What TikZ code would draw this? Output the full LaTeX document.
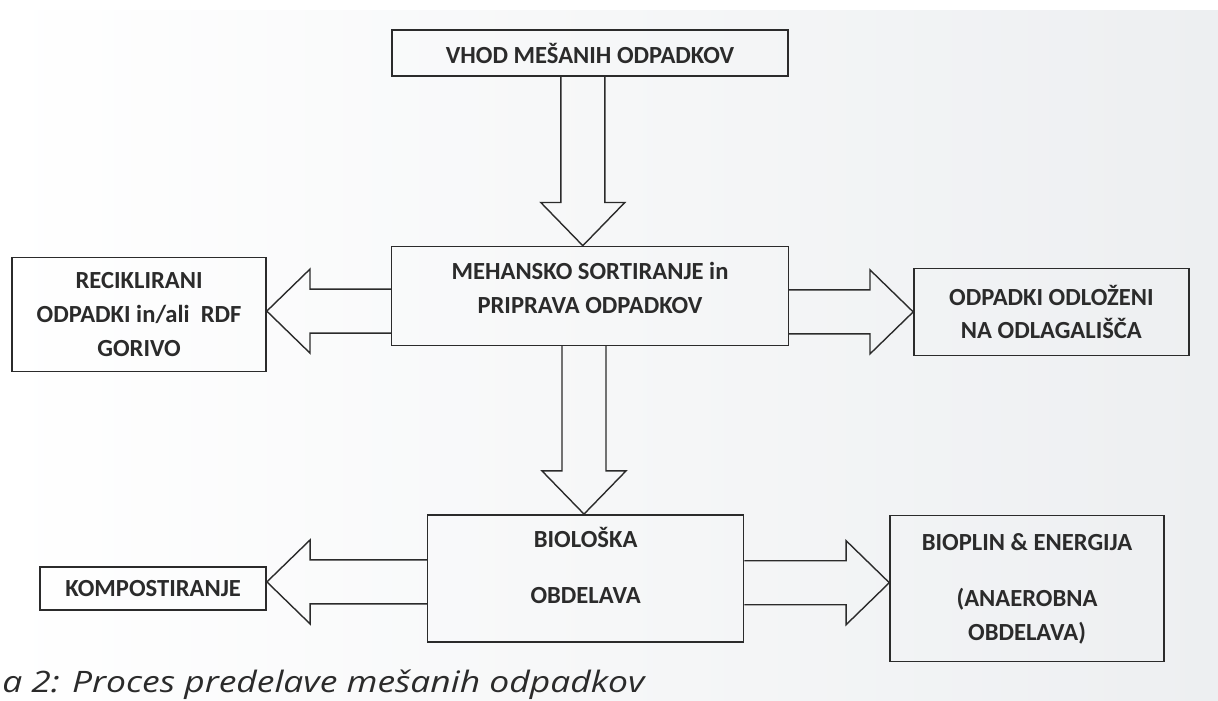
\documentclass[tikz,border=0pt]{standalone}
\usepackage{fontspec}
\usepackage{tikz}
\usetikzlibrary{positioning, calc}
\newfontfamily\boxfont{Carlito}
\newfontfamily\capfont{Open Sans}[FakeStretch=1.2]
\definecolor{ink}{HTML}{2B2B2B}
\definecolor{paper}{HTML}{EDEFF1}
\newcommand{\shaftw}{0.55cm}
\newcommand{\headw}{1.05cm}
\newcommand{\headl}{1.08cm}

\begin{document}
\begin{tikzpicture}[
    box/.style={rectangle, draw=ink, line width=1pt, text=ink, align=center, inner sep=0pt,
        font=\boxfont\bfseries\fontsize{17.5}{24}\selectfont},
    blockarrow/.style={draw=ink, line width=1pt, line join=miter,
        to path={let \p1=(\tikztostart), \p2=(\tikztotarget),
            \n1={veclen(\x2-\x1,\y2-\y1)}, \n2={(\x2-\x1)/\n1}, \n3={(\y2-\y1)/\n1} in
            ($(\p1)+({-\n3*\shaftw},{\n2*\shaftw})$)
            -- ($(\p2)+({-\n2*\headl-\n3*\shaftw},{-\n3*\headl+\n2*\shaftw})$)
            -- ($(\p2)+({-\n2*\headl-\n3*\headw},{-\n3*\headl+\n2*\headw})$)
            -- (\p2)
            -- ($(\p2)+({-\n2*\headl+\n3*\headw},{-\n3*\headl-\n2*\headw})$)
            -- ($(\p2)+({-\n2*\headl+\n3*\shaftw},{-\n3*\headl-\n2*\shaftw})$)
            -- ($(\p1)+({\n3*\shaftw},{-\n2*\shaftw})$)}}
]
    % paper
    \useasboundingbox (0,0) rectangle (30.45,17.525);
    \shade[left color=white, right color=paper] (0,0) rectangle (30.45,17.275);
    \fill[white] (0,17.275) rectangle (30.45,17.525);

    % middle column
    \node (vhod) [box, minimum width=9.9cm, minimum height=1.15cm] at (14.75,16.2) {VHOD MEŠANIH ODPADKOV};
    \node (mehansko) [box, minimum width=9.925cm, minimum height=2.475cm, below=4.225cm of vhod]
        {MEHANSKO SORTIRANJE in\\PRIPRAVA ODPADKOV\\[-0.45cm]\mbox{}};
    \node (bioloska) [box, minimum width=7.9cm, minimum height=3.175cm, below=4.2cm of mehansko, xshift=-0.11cm]
        {BIOLOŠKA\\[0.55cm]OBDELAVA\\[-0.2cm]\mbox{}};

    % side boxes
    \node (reciklirani) [box, minimum width=6.35cm, minimum height=2.85cm, left=3.1cm of mehansko, yshift=-0.46cm]
        {RECIKLIRANI\\ODPADKI in/ali~ RDF\\GORIVO};
    \node (odlozeni) [box, minimum width=6.875cm, minimum height=2.175cm, right=3.1cm of mehansko, yshift=-0.4cm]
        {ODPADKI ODLOŽENI\\NA ODLAGALIŠČA};
    \node (kompost) [box, minimum width=5.65cm, minimum height=1.075cm, left=4cm of bioloska, yshift=-0.25cm]
        {KOMPOSTIRANJE};
    \node (bioplin) [box, minimum width=6.85cm, minimum height=3.65cm, right=3.625cm of bioloska, yshift=-0.26cm]
        {BIOPLIN \& ENERGIJA\\[0.55cm](ANAEROBNA\\OBDELAVA)};

    % caption
    \node (napis) [anchor=base west, inner sep=0pt, text=ink, font=\capfont\itshape\fontsize{21}{24}\selectfont]
        at (0.05,0.22) {a 2: Proces predelave mešanih odpadkov};

    % arrows
    \draw [blockarrow] ([xshift=-0.18cm]vhod.south) to ([xshift=-0.18cm]vhod.south |- mehansko.north);
    \draw [blockarrow] ([xshift=-0.15cm]mehansko.south) to ([xshift=-0.15cm]mehansko.south |- bioloska.north);
    \draw [blockarrow] ([yshift=-0.38cm]mehansko.west) to ([yshift=-0.38cm]mehansko.west -| reciklirani.east);
    \draw [blockarrow] ([yshift=-0.4cm]mehansko.east) to ([yshift=-0.4cm]mehansko.east -| odlozeni.west);
    \draw [blockarrow] ([yshift=-0.09cm]bioloska.west) to ([yshift=-0.09cm]bioloska.west -| kompost.east);
    \draw [blockarrow] ([yshift=-0.11cm]bioloska.east) to ([yshift=-0.11cm]bioloska.east -| bioplin.west);
\end{tikzpicture}
\end{document}
